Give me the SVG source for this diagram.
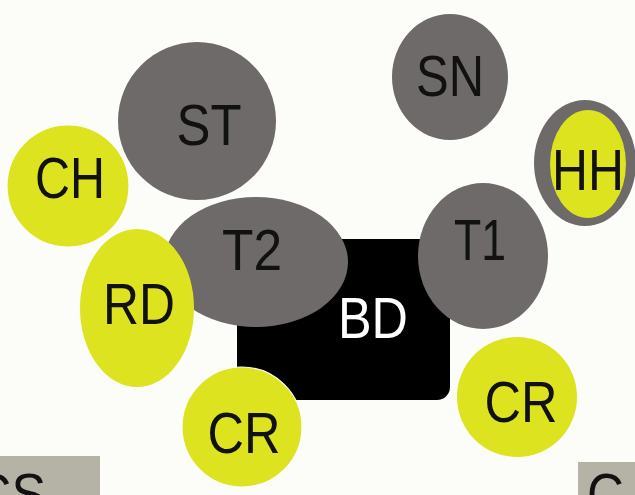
<svg xmlns="http://www.w3.org/2000/svg" width="635" height="495" viewBox="0 0 635 495">
<style>
.bg{fill:#fcfcf8}
.g{fill:#6e6a69}
.y{fill:#dde31f}
.ys{fill:#dde31f;stroke:#fcfcf8;stroke-width:1.2}
.box{fill:#b4b3a6}
text{font-family:"Liberation Sans",Arial,sans-serif;font-size:58px;fill:#111}
.c{text-anchor:middle}
.w{fill:#ffffff}
</style>
<rect class="bg" x="0" y="0" width="635" height="495"/>
<g id="connectors"></g>
<g id="BD"><rect x="237" y="239" width="213" height="161" rx="13" fill="#000"/><text class="c w" x="373" y="338" textLength="70" lengthAdjust="spacingAndGlyphs">BD</text></g>
<g id="ST"><circle class="g" cx="197" cy="121" r="79"/><text class="c" x="209" y="145" textLength="65" lengthAdjust="spacingAndGlyphs">ST</text></g>
<g id="T2"><ellipse class="g" cx="256" cy="262" rx="92" ry="65"/><text class="c" x="252" y="270" textLength="60" lengthAdjust="spacingAndGlyphs">T2</text></g>
<g id="SN"><ellipse class="g" cx="450" cy="77" rx="58" ry="63"/><text class="c" x="450" y="96" textLength="68" lengthAdjust="spacingAndGlyphs">SN</text></g>
<g id="T1"><ellipse class="g" cx="483" cy="256" rx="65" ry="73"/><text class="c" x="480" y="260" textLength="52" lengthAdjust="spacingAndGlyphs">T1</text></g>
<g id="HH"><ellipse cx="585" cy="163" rx="51" ry="63" fill="#6e6a69"/><ellipse cx="588" cy="164" rx="38" ry="54" fill="#dde31f"/><text class="c" x="588" y="190" textLength="72" lengthAdjust="spacingAndGlyphs">HH</text></g>
<g id="CH"><circle class="ys" cx="68" cy="186" r="61"/><text class="c" x="70" y="198" textLength="70" lengthAdjust="spacingAndGlyphs">CH</text></g>
<g id="RD"><ellipse class="y" cx="137" cy="308" rx="57" ry="79"/><text class="c" x="139" y="324" textLength="72" lengthAdjust="spacingAndGlyphs">RD</text></g>
<g id="CR1"><circle class="ys" cx="242" cy="427" r="60"/><text class="c" x="244" y="453" textLength="73" lengthAdjust="spacingAndGlyphs">CR</text></g>
<g id="CR2"><circle class="y" cx="517" cy="397" r="60"/><text class="c" x="521" y="422" textLength="73" lengthAdjust="spacingAndGlyphs">CR</text></g>
<g id="CS"><rect class="box" x="0" y="456" width="100" height="39"/><text x="-26" y="514" textLength="72" lengthAdjust="spacingAndGlyphs">CS</text></g>
<g id="C"><rect class="box" x="578" y="462" width="57" height="33"/><text x="587" y="514" textLength="37" lengthAdjust="spacingAndGlyphs">C</text></g>
</svg>
